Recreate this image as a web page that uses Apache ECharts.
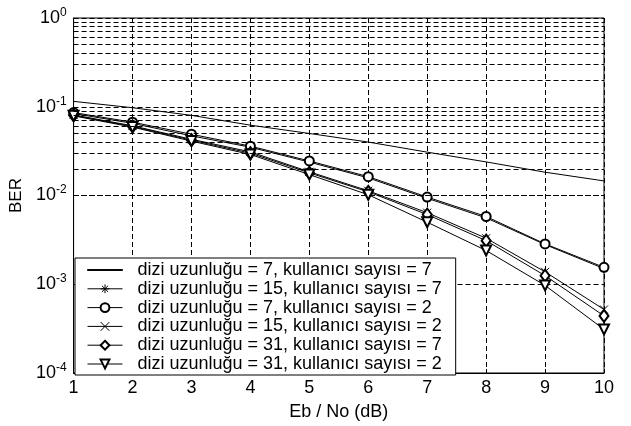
<!DOCTYPE html>
<html>
<head>
<meta charset="utf-8">
<script src="https://cdn.jsdelivr.net/npm/echarts@6.0.0/dist/echarts.min.js"></script>
<style>
  html, body { margin: 0; padding: 0; background: #fff; }
  #chart { width: 631px; height: 426px; }
</style>
</head>
<body>
<div id="chart"></div>
<script>
// Eb/No (dB)
var ebno = [1, 2, 3, 4, 5, 6, 7, 8, 9, 10];

// BER values
var ber_7_7 = [0.115, 0.0975, 0.080, 0.062, 0.050, 0.040, 0.0308, 0.0239, 0.0183, 0.0146];
var ber_15_7 = [0.084, 0.065, 0.047, 0.035, 0.0238, 0.0158, 0.0093, 0.0056, 0.0028, 0.00150];
var ber_7_2 = [0.086, 0.067, 0.049, 0.036, 0.0245, 0.0163, 0.0096, 0.0058, 0.00285, 0.00155];
var ber_15_2 = [0.081, 0.061, 0.043, 0.031, 0.0185, 0.0113, 0.0064, 0.0033, 0.00138, 0.00052];
var ber_31_7 = [0.080, 0.060, 0.042, 0.030, 0.0180, 0.0110, 0.0061, 0.0031, 0.00125, 0.00044];
var ber_31_2 = [0.079, 0.059, 0.041, 0.029, 0.0172, 0.0102, 0.0050, 0.0024, 0.00097, 0.00031];

var names = [
  "dizi uzunluğu = 7, kullanıcı sayısı = 7",
  "dizi uzunluğu = 15, kullanıcı sayısı = 7",
  "dizi uzunluğu = 7, kullanıcı sayısı = 2",
  "dizi uzunluğu = 15, kullanıcı sayısı = 2",
  "dizi uzunluğu = 31, kullanıcı sayısı = 7",
  "dizi uzunluğu = 31, kullanıcı sayısı = 2"
];

// decades on the y axis
var decades = [0.0001, 0.001, 0.01, 0.1];

(function () {
  var myChart = echarts.init(document.getElementById("chart"));
  var font = "'Liberation Sans', Arial, sans-serif";
  var dash = [5, 3];

  function pairs(arr) {
    return ebno.map(function (x, i) { return [x, arr[i]]; });
  }

  // minor log grid lines (2..9 x each decade)
  var minorLines = [];
  decades.forEach(function (d) {
    for (var k = 2; k <= 9; k++) {
      minorLines.push({ yAxis: k * d });
    }
  });

  function line(name, arr, symbol, size, extra) {
    var s = {
      name: name,
      type: "line",
      data: pairs(arr),
      symbol: symbol,
      symbolSize: size,
      showSymbol: symbol !== "none",
      lineStyle: { color: "#000", width: 1 },
      itemStyle: { color: "#000", borderColor: "#000", borderWidth: 1 },
      emphasis: { disabled: true },
      animation: false,
      z: 3
    };
    for (var k in extra) s[k] = extra[k];
    return s;
  }

  var option = {
    backgroundColor: "#fff",
    textStyle: { fontFamily: font },
    grid: {
      left: 71,
      right: 27,
      top: 18,
      bottom: 48,
      show: true,
      borderColor: "#000",
      borderWidth: 1
    },
    legend: {
      orient: "vertical",
      left: 75,
      top: 258,
      padding: [3, 14, 2, 12],
      itemWidth: 35,
      itemHeight: 11,
      itemGap: 0.8,
      backgroundColor: "#fff",
      borderColor: "#000",
      borderWidth: 1,
      borderRadius: 0,
      lineStyle: { width: 1 },
      itemStyle: { borderWidth: 1 },
      textStyle: { color: "#000", fontSize: 18, lineHeight: 18, fontFamily: font, padding: [0, 0, 0, 10] },
      data: [
        { name: names[0], icon: "path://M0,0H40V1H0Z" },
        names[1], names[2], names[3], names[4], names[5]
      ]
    },
    xAxis: {
      type: "value",
      min: 1,
      max: 10,
      interval: 1,
      name: "Eb / No (dB)",
      nameLocation: "middle",
      nameGap: 30,
      nameTextStyle: { color: "#000", fontSize: 18 },
      axisLine: { lineStyle: { color: "#000" } },
      axisTick: { inside: true, length: 4, lineStyle: { color: "#000" } },
      axisLabel: { color: "#000", fontSize: 18, margin: 6 },
      splitLine: { show: true, lineStyle: { color: "#000", type: dash } }
    },
    yAxis: {
      type: "log",
      logBase: 10,
      min: 0.0001,
      max: 1,
      splitNumber: 4,
      name: "BER",
      nameLocation: "middle",
      nameGap: 47,
      nameTextStyle: { color: "#000", fontSize: 17 },
      axisLine: { lineStyle: { color: "#000" } },
      axisTick: { inside: true, length: 4, lineStyle: { color: "#000" } },
      axisLabel: {
        color: "#000",
        margin: 7,
        formatter: function (v) {
          var e = Math.round(Math.log(v) / Math.LN10);
          return "{b|10}{s|" + e + "}";
        },
        rich: {
          b: { fontSize: 18, color: "#000", fontFamily: font },
          s: { fontSize: 12, color: "#000", fontFamily: font, verticalAlign: "top", padding: [0, 0, 11, 0] }
        }
      },
      splitLine: { show: true, lineStyle: { color: "#000", type: dash } }
    },
    series: [
      line(names[0], ber_7_7, "none", 0, {
        markLine: {
          silent: true,
          symbol: ["none", "none"],
          label: { show: false },
          animation: false,
          lineStyle: { color: "#000", width: 1, type: dash },
          emphasis: { disabled: true },
          data: minorLines
        }
      }),
      line(names[1], ber_15_7, "path://M5,0L5,10M0,5L10,5M1.5,1.5L8.5,8.5M8.5,1.5L1.5,8.5", 8, {}),
      line(names[2], ber_7_2, "emptyCircle", 9, {}),
      line(names[3], ber_15_2, "path://M0,0L10,10M10,0L0,10", 8, {}),
      line(names[4], ber_31_7, "emptyDiamond", [9, 12], {}),
      line(names[5], ber_31_2, "emptyTriangle", 10, { symbolRotate: 180 })
    ]
  };

  myChart.setOption(option);
  window.addEventListener("resize", function () {
    myChart.resize();
  });
})();
</script>
</body>
</html>
